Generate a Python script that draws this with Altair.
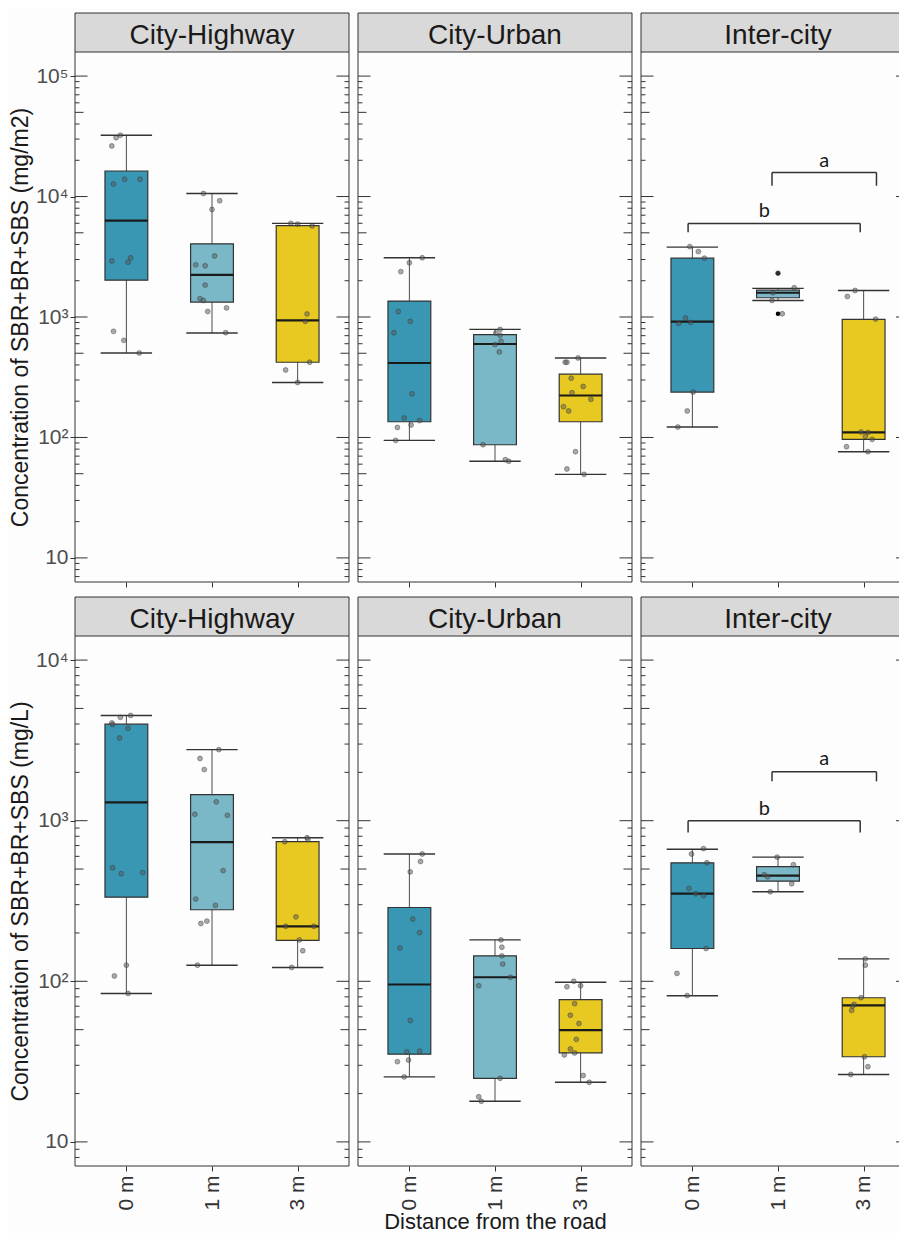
import altair as alt
import pandas as pd

FONT = "Liberation Sans"
DIST = ["0 m", "1 m", "3 m"]
SITES = ["City-Highway", "City-Urban", "Inter-city"]
BOX_COLORS = ["#3997b4", "#7ab8c8", "#e8c921"]
Y_TITLES = ["Concentration of SBR+BR+SBS (mg/m2)", "Concentration of SBR+BR+SBS (mg/L)"]
X_TITLE = "Distance from the road"
Y_DOMAINS = [[6.31, 158490], [7.08, 14125]]
DECADES = [[10, 100, 1000, 10000, 100000], [10, 100, 1000, 10000]]

# box statistics per distance: [lower whisker, Q1, median, Q3, upper whisker]
top_ch_box = [[502, 2020, 6300, 16300, 32300], [736, 1330, 2240, 4050, 10600], [286, 421, 938, 5730, 5990]]
top_cu_box = [[94.6, 135, 415, 1355, 3100], [63.4, 87, 597, 713, 789], [49.4, 135, 223, 335, 457]]
top_ic_box = [[122, 238, 914, 3080, 3800], [1370, 1445, 1590, 1670, 1730], [76.2, 96.4, 110, 955, 1660]]
bot_ch_box = [[84, 334, 1300, 3990, 4520], [126, 279, 736, 1455, 2770], [122, 180, 220, 740, 783]]
bot_cu_box = [[25.4, 35.2, 95.5, 288, 620], [17.9, 24.9, 106, 144, 181], [23.5, 35.8, 49.7, 76.8, 98.6]]
bot_ic_box = [[81.3, 160, 352, 547, 664], [361, 420, 455, 517, 593], [26.3, 33.9, 70.8, 79, 138]]

top_ch_pts = [[32300, 30800, 26300, 12700, 13900, 13900, 2920, 2850, 3100, 760, 640, 502],
              [10600, 9230, 7810, 3210, 2710, 2660, 1840, 1420, 1370, 1110, 1190, 741],
              [5990, 5900, 5700, 1060, 920, 421, 363, 286]]
top_ch_jit = [[-0.07, -0.12, -0.17, -0.15, -0.02, 0.16, -0.17, 0.02, 0.05, -0.15, -0.03, 0.15],
              [-0.10, 0.09, 0.00, 0.03, -0.19, -0.08, -0.08, -0.14, -0.10, -0.05, 0.17, 0.16],
              [-0.08, 0.00, 0.17, 0.11, 0.09, 0.14, -0.14, 0.00]]
top_cu_pts = [[2380, 2820, 3100, 1110, 920, 741, 230, 145, 138, 121, 127, 94.6],
              [789, 736, 705, 629, 590, 513, 87, 65.4, 63.4],
              [457, 421, 421, 310, 265, 235, 207, 180, 166, 76.2, 54.7, 49.4]]
top_cu_jit = [[-0.10, 0.00, 0.15, -0.13, 0.01, -0.18, 0.03, -0.06, 0.12, -0.14, 0.02, -0.16],
              [0.06, 0.01, 0.06, 0.07, 0.00, 0.05, -0.14, 0.12, 0.16],
              [-0.03, -0.18, -0.16, -0.11, 0.03, -0.10, 0.12, -0.20, -0.14, -0.06, -0.16, 0.04]]
top_ic_pts = [[3840, 3490, 3080, 980, 885, 902, 238, 166, 122],
              [2310, 1750, 1590, 1370, 1064],
              [1660, 1480, 961, 111, 110, 102, 96.4, 83.8, 76.2]]
top_ic_jit = [[-0.03, 0.07, 0.14, -0.08, -0.16, -0.02, 0.01, -0.06, -0.17],
              [0.00, 0.19, -0.06, -0.07, 0.05],
              [-0.10, -0.19, 0.14, -0.03, 0.05, 0.02, 0.10, -0.20, 0.05]]
top_ic_out = [[], [2310, 1064], []]

bot_ch_pts = [[4400, 4520, 4060, 3970, 3760, 3270, 509, 468, 475, 126, 108, 84],
              [2770, 2440, 2080, 1310, 1096, 1080, 489, 325, 297, 229, 237, 126],
              [740, 783, 766, 252, 220, 220, 181, 155, 122]]
bot_ch_jit = [[-0.07, 0.05, -0.17, -0.16, 0.02, -0.08, -0.16, -0.06, 0.19, 0.00, -0.14, 0.02],
              [0.08, -0.14, -0.09, 0.05, -0.20, 0.18, 0.13, -0.19, 0.04, -0.13, -0.06, -0.17],
              [-0.15, 0.11, 0.12, -0.02, -0.14, 0.19, 0.02, 0.06, -0.07]]
bot_cu_pts = [[620, 557, 480, 244, 201, 161, 57, 36.3, 36.7, 31.6, 32.3, 25.4],
              [181, 163, 144, 128, 106, 93.8, 24.9, 19.1, 17.9],
              [100, 92.5, 93.8, 72.6, 61.5, 54.6, 43.5, 37.9, 34.8, 35.8, 25.9, 23.5]]
bot_cu_jit = [[0.15, 0.13, 0.01, 0.04, 0.12, -0.11, 0.01, -0.03, 0.12, -0.14, -0.01, -0.06],
              [0.07, 0.08, 0.08, 0.09, 0.18, -0.19, 0.06, -0.19, -0.16],
              [-0.08, -0.16, 0.00, -0.07, -0.12, -0.02, -0.05, -0.12, -0.19, -0.07, 0.03, 0.10]]
bot_ic_pts = [[670, 620, 547, 379, 351, 342, 160, 112, 81.5],
              [593, 532, 461, 447, 405, 361],
              [138, 126, 79, 71.8, 70.1, 65.9, 33.9, 29.4, 26.3]]
bot_ic_jit = [[0.13, -0.01, 0.17, -0.04, 0.04, 0.13, 0.16, -0.18, -0.06],
              [-0.01, 0.18, -0.16, -0.12, 0.16, -0.09],
              [0.02, 0.02, -0.03, -0.11, -0.13, -0.14, 0.01, 0.05, -0.15]]
bot_ic_out = [[], [], []]

# significance brackets (Inter-city panels)
br_labels = ["a", "b"]
br_x1 = [0.93, -0.05]
br_x2 = [2.15, 1.96]
top_br_y = [15850, 5980]
top_br_leg = [12300, 5050]
bot_br_y = [2020, 1000]
bot_br_leg = [1760, 845]
br_tx = [1.54, 0.84]
top_br_ty = [17750, 6710]
bot_br_ty = [2230, 1081]

W = 274          # full panel width
W_LAST = 258     # last panel is cut at the page edge
STRIP = 39
H = 569
PX_PER_UNIT = W / 3.2
LINE = "#333333"


def log_ticks(dom):
    lo, hi = dom
    major, mid, minor = [], [], []
    for k in range(0, 6):
        for m in range(1, 10):
            v = m * 10 ** k
            if v < lo or v > hi:
                continue
            if m == 1:
                major.append(v)
            elif m == 5:
                mid.append(v)
            else:
                minor.append(v)
    return major, mid, minor


def panel(row, col, box, pts, jit, outl, br):
    last = col == 2
    w = W_LAST if last else W
    ydom = Y_DOMAINS[row]
    yscale = alt.Scale(type="log", domain=ydom, range=[H, STRIP], nice=False)
    xscale = alt.Scale(domain=[-0.6, -0.6 + w / PX_PER_UNIT], nice=False, zero=False)

    if col == 0:
        yaxis = alt.Axis(values=DECADES[row], tickSize=5, tickColor=LINE, tickWidth=1,
                         domain=False, grid=False,
                         labelExpr="datum.value >= 50000 ? '10\u2075' : datum.value >= 5000 ? '10\u2074' : "
                                   "datum.value >= 500 ? '10\u00b3' : datum.value >= 50 ? '10\u00b2' : '10'",
                         labelFont=FONT, labelFontSize=21, labelColor="#4d4d4d", labelPadding=2,
                         title=Y_TITLES[row], titleFont=FONT, titleFontSize=23, titleFontWeight="normal",
                         titleColor="#1a1a1a", titlePadding=3)
    else:
        yaxis = None

    xkw = dict(values=[0, 1, 2], tickSize=5, tickColor=LINE, tickWidth=1, domain=False, grid=False)
    if row == 1:
        xkw.update(labels=True, labelAngle=270, labelFont=FONT, labelFontSize=21, labelColor="#333333",
                   labelPadding=4,
                   labelExpr="datum.value == 0 ? '%s' : datum.value == 1 ? '%s' : '%s'" % tuple(DIST))
    else:
        xkw.update(labels=False)
    if row == 1 and col == 1:
        xkw.update(title=X_TITLE, titleFont=FONT, titleFontSize=22, titleFontWeight="normal",
                   titleColor="#1a1a1a", titlePadding=1)
    else:
        xkw.update(title=None)
    xaxis = alt.Axis(**xkw)

    def X(f):
        return alt.X(f, type="quantitative", scale=xscale, axis=xaxis)

    def Y(f):
        return alt.Y(f, type="quantitative", scale=yscale, axis=yaxis)

    layers = []
    one = pd.DataFrame({"t": [SITES[col]]})

    # strip header and panel frame
    layers.append(alt.Chart(one).mark_rect(fill="#d9d9d9", strokeWidth=0).encode(
        x=alt.value(0), x2=alt.value(w), y=alt.value(0), y2=alt.value(STRIP)))
    layers.append(alt.Chart(one).mark_text(font=FONT, fontSize=28, color="#1a1a1a", baseline="alphabetic").encode(
        text="t:N", x=alt.value(W / 2), y=alt.value(31)))
    for yy in [0, STRIP, H]:
        layers.append(alt.Chart(one).mark_rule(color=LINE, strokeWidth=1).encode(
            x=alt.value(0), x2=alt.value(w), y=alt.value(yy)))
    sides = [0] if last else [0, w]
    for xx in sides:
        layers.append(alt.Chart(one).mark_rule(color=LINE, strokeWidth=1).encode(
            x=alt.value(xx), y=alt.value(0), y2=alt.value(H)))

    # log ticks inside both sides
    major, mid, minor = log_ticks(ydom)
    for vals, L in [(major, 12.5), (mid, 8.5), (minor, 4.5)]:
        tdf = pd.DataFrame({"v": vals})
        layers.append(alt.Chart(tdf).mark_rule(color=LINE, strokeWidth=1).encode(
            y=Y("v"), x=alt.value(0), x2=alt.value(L)))
        if not last:
            layers.append(alt.Chart(tdf).mark_rule(color=LINE, strokeWidth=1).encode(
                y=Y("v"), x=alt.value(w - L), x2=alt.value(w)))
    if last:
        tdf = pd.DataFrame({"v": major})
        layers.append(alt.Chart(tdf).mark_rule(color=LINE, strokeWidth=1).encode(
            y=Y("v"), x=alt.value(w - 3), x2=alt.value(w)))

    bdf = pd.DataFrame({
        "pos": [0, 1, 2], "grp": DIST,
        "lw": [b[0] for b in box], "q1": [b[1] for b in box], "med": [b[2] for b in box],
        "q3": [b[3] for b in box], "uw": [b[4] for b in box],
    })
    base = alt.Chart(bdf).transform_calculate(
        bl="datum.pos - 0.25", bh="datum.pos + 0.25", cl="datum.pos - 0.3", ch="datum.pos + 0.3")
    layers.append(base.mark_rule(color="#4d4d4d", strokeWidth=1).encode(x=X("pos"), y=Y("lw"), y2="uw"))
    layers.append(base.mark_rule(color=LINE, strokeWidth=1.4).encode(x=X("cl"), x2="ch", y=Y("lw")))
    layers.append(base.mark_rule(color=LINE, strokeWidth=1.4).encode(x=X("cl"), x2="ch", y=Y("uw")))
    layers.append(base.mark_rect(stroke=LINE, strokeWidth=1.2).encode(
        x=X("bl"), x2="bh", y=Y("q1"), y2="q3",
        color=alt.Color("grp:N", scale=alt.Scale(domain=DIST, range=BOX_COLORS), legend=None)))
    layers.append(base.mark_rule(color="#1a1a1a", strokeWidth=2.2).encode(x=X("bl"), x2="bh", y=Y("med")))

    # outliers
    orows = []
    for i, vals in enumerate(outl):
        for v in vals:
            orows.append({"pos": i, "v": v})
    if orows:
        odf = pd.DataFrame(orows)
        layers.append(alt.Chart(odf).mark_circle(size=20, fill="#000000", opacity=1).encode(
            x=X("pos"), y=Y("v")))

    # jittered points
    prows = []
    for i in range(3):
        for v, j in zip(pts[i], jit[i]):
            prows.append({"pos": i, "jit": j, "v": v})
    pdf = pd.DataFrame(prows)
    layers.append(alt.Chart(pdf).transform_calculate(xp="datum.pos + datum.jit").mark_circle(
        size=24, fill="#555555", fillOpacity=0.5, stroke="#333333", strokeOpacity=0.6, strokeWidth=0.7
    ).encode(x=X("xp"), y=Y("v")))

    # brackets
    if br is not None:
        ys, legs, tys = br
        kdf = pd.DataFrame({"lab": br_labels, "x1": br_x1, "x2": br_x2, "y": ys, "leg": legs,
                            "tx": br_tx, "ty": tys})
        kb = alt.Chart(kdf)
        layers.append(kb.mark_rule(color=LINE, strokeWidth=1.5).encode(x=X("x1"), x2="x2", y=Y("y")))
        layers.append(kb.mark_rule(color=LINE, strokeWidth=1.5).encode(x=X("x1"), y=Y("leg"), y2="y"))
        layers.append(kb.mark_rule(color=LINE, strokeWidth=1.5).encode(x=X("x2"), y=Y("leg"), y2="y"))
        layers.append(kb.mark_text(font="Lato", fontSize=20, color="#1a1a1a", baseline="alphabetic").encode(
            x=X("tx"), y=Y("ty"), text="lab:N"))

    return alt.layer(*layers).properties(width=w, height=H)


top_row = alt.hconcat(
    panel(0, 0, top_ch_box, top_ch_pts, top_ch_jit, [[], [], []], None),
    panel(0, 1, top_cu_box, top_cu_pts, top_cu_jit, [[], [], []], None),
    panel(0, 2, top_ic_box, top_ic_pts, top_ic_jit, top_ic_out, (top_br_y, top_br_leg, top_br_ty)),
    spacing=7,
)
bot_row = alt.hconcat(
    panel(1, 0, bot_ch_box, bot_ch_pts, bot_ch_jit, [[], [], []], None),
    panel(1, 1, bot_cu_box, bot_cu_pts, bot_cu_jit, [[], [], []], None),
    panel(1, 2, bot_ic_box, bot_ic_pts, bot_ic_jit, bot_ic_out, (bot_br_y, bot_br_leg, bot_br_ty)),
    spacing=7,
)

chart = alt.vconcat(top_row, bot_row, spacing=8).properties(
    padding={"left": 1, "top": 4, "right": 0, "bottom": 0},
    background="#fdfdfd",
).configure_view(strokeWidth=0, fill="#fdfdfd")

chart.save("out.html", embed_options={"renderer": "svg", "actions": False})
